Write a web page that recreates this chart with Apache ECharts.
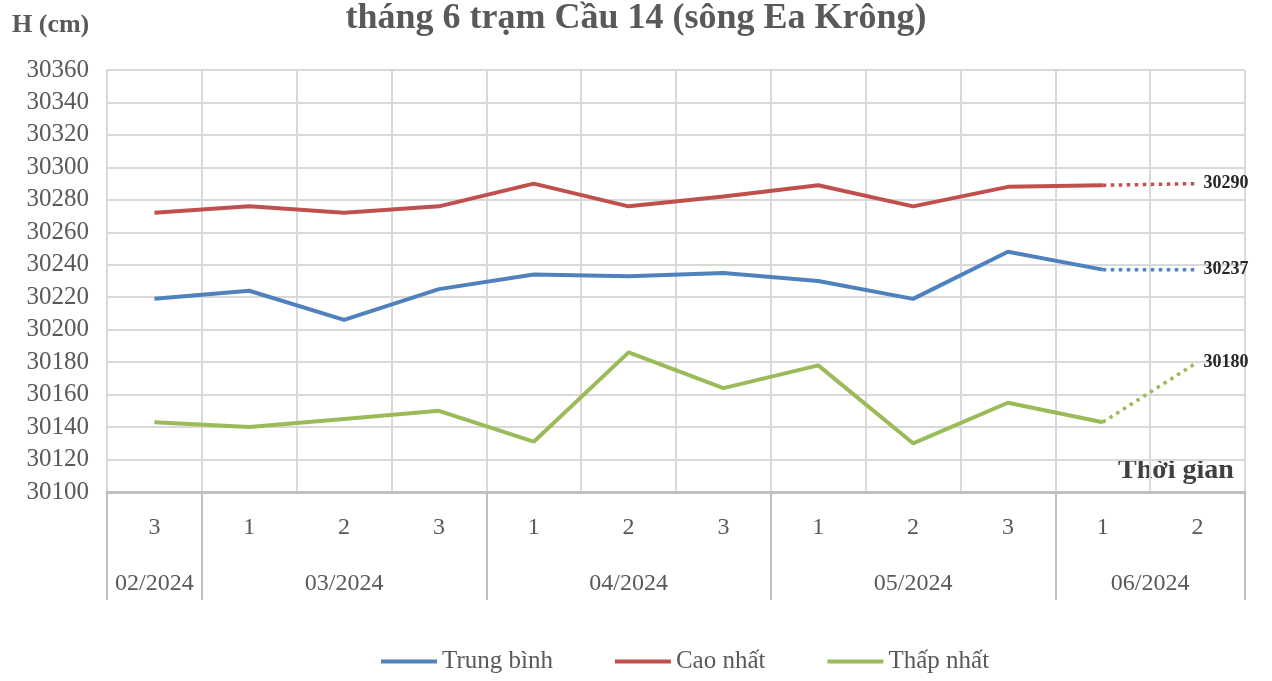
<!DOCTYPE html>
<html>
<head>
<meta charset="utf-8">
<title>Mực nước trạm Cầu 14</title>
<script src="https://cdn.jsdelivr.net/npm/echarts@6/dist/echarts.min.js"></script>
<style>
  html, body { margin: 0; padding: 0; background: #fff; }
  #chart { width: 1272px; height: 681px; }
</style>
</head>
<body>
<div id="chart"></div>
<script>
// các tuần (dekad) trên trục x
var dekads = ['3', '1', '2', '3', '1', '2', '3', '1', '2', '3', '1', '2']
// tháng và số dekad của mỗi tháng
var months = ['02/2024', '03/2024', '04/2024', '05/2024', '06/2024']
var monthSpans = [1, 3, 3, 3, 2]
// số liệu thực đo (H, cm)
var avgLevel = [30219, 30224, 30206, 30225, 30234, 30233, 30235, 30230, 30219, 30248, 30237]
var maxLevel = [30272, 30276, 30272, 30276, 30290, 30276, 30282, 30289, 30276, 30288, 30289]
var minLevel = [30143, 30140, 30145, 30150, 30131, 30186, 30164, 30178, 30130, 30155, 30143]
// dự báo dekad 2 tháng 6
var avgForecast = 30237
var maxForecast = 30290
var minForecast = 30180

var FONT = "'Liberation Serif', 'Times New Roman', serif"
var GRID_COLOR = '#d9d9d9'
var TEXT_COLOR = '#595959'

// ranh giới và vị trí giữa của mỗi tháng trên trục phụ
var bounds = [0]
var centers = []
monthSpans.forEach(function (n) {
  var start = bounds[bounds.length - 1]
  centers.push(start + n / 2)
  bounds.push(start + n)
})

// đường nét chấm nối từ điểm đo cuối đến giá trị dự báo
function forecastLine(values, fc) {
  var arr = dekads.map(function () { return null })
  arr[values.length - 1] = values[values.length - 1]
  arr[values.length] = fc
  return arr
}

function solidSeries(name, data, color) {
  return {
    name: name,
    type: 'line',
    data: data,
    showSymbol: false,
    symbol: 'none',
    lineStyle: { width: 4, color: color },
    itemStyle: { color: color }
  }
}

function dottedSeries(name, values, fc, color) {
  return {
    name: name,
    type: 'line',
    data: forecastLine(values, fc),
    showSymbol: false,
    symbol: 'none',
    connectNulls: false,
    lineStyle: { width: 3.5, color: color, type: [3.5, 4.5] },
    itemStyle: { color: color },
    endLabel: {
      show: true,
      distance: 6,
      fontFamily: FONT,
      fontWeight: 'bold',
      fontSize: 18,
      color: '#262626',
      formatter: function (p) { return p.value }
    }
  }
}

var chart = echarts.init(document.getElementById('chart'))

var option = {
  animation: false,
  backgroundColor: '#fff',
  title: {
    text: 'tháng 6 trạm Cầu 14 (sông Ea Krông)',
    left: 'center',
    top: -4,
    textStyle: { fontFamily: FONT, fontSize: 36, fontWeight: 'bold', color: TEXT_COLOR }
  },
  graphic: [
    {
      type: 'text', left: 12, top: 12,
      style: { text: 'H (cm)', font: 'bold 26px ' + FONT, fill: TEXT_COLOR }
    },
    {
      type: 'text', left: 1118, top: 457,
      style: { text: 'Thời gian', font: 'bold 28px ' + FONT, fill: '#404040' }
    }
  ],
  legend: {
    data: ['Trung bình', 'Cao nhất', 'Thấp nhất'],
    bottom: 2,
    left: 376,
    icon: 'rect',
    itemWidth: 56,
    itemHeight: 4,
    itemGap: 62,
    textStyle: { fontFamily: FONT, fontSize: 25, color: TEXT_COLOR }
  },
  grid: { left: 107, right: 27, top: 70, bottom: 189 },
  xAxis: [
    {
      type: 'category',
      data: dekads,
      boundaryGap: true,
      axisLine: { lineStyle: { color: '#bfbfbf', width: 3 } },
      axisTick: { show: false },
      axisLabel: { interval: 0, margin: 24, fontFamily: FONT, fontSize: 24, color: TEXT_COLOR },
      splitLine: { show: true, interval: 0, lineStyle: { color: GRID_COLOR, width: 2 } }
    },
    {
      // trục phụ cho nhãn tháng
      type: 'value',
      position: 'bottom',
      min: 0,
      max: dekads.length,
      axisLine: { show: false },
      splitLine: { show: false },
      axisTick: {
        show: true,
        customValues: bounds,
        length: 108,
        lineStyle: { color: '#bfbfbf', width: 2 }
      },
      axisLabel: {
        customValues: centers,
        margin: 80,
        fontFamily: FONT,
        fontSize: 24,
        color: TEXT_COLOR,
        formatter: function (v) {
          var i = centers.indexOf(v)
          return i >= 0 ? months[i] : ''
        }
      }
    }
  ],
  yAxis: {
    type: 'value',
    min: 30100,
    max: 30360,
    interval: 20,
    axisLine: { show: true, lineStyle: { color: GRID_COLOR, width: 2 } },
    axisTick: { show: false },
    axisLabel: {
      margin: 18, fontFamily: FONT, fontSize: 25, color: TEXT_COLOR,
      formatter: function (v) { return String(v) }
    },
    splitLine: { lineStyle: { color: GRID_COLOR, width: 2 } }
  },
  series: [
    solidSeries('Trung bình', avgLevel, '#4f81bd'),
    solidSeries('Cao nhất', maxLevel, '#c0504d'),
    solidSeries('Thấp nhất', minLevel, '#9bbb59'),
    dottedSeries('Dự báo TB', avgLevel, avgForecast, '#4f81bd'),
    dottedSeries('Dự báo cao', maxLevel, maxForecast, '#c0504d'),
    dottedSeries('Dự báo thấp', minLevel, minForecast, '#9bbb59')
  ]
}

chart.setOption(option)
</script>
</body>
</html>
